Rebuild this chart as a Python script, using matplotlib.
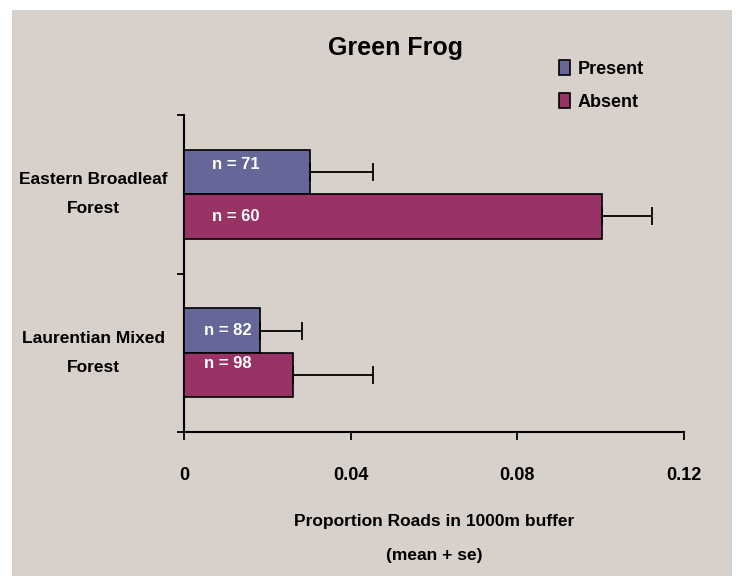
import matplotlib
matplotlib.use("Agg")
import matplotlib.pyplot as plt
import numpy as np
from matplotlib.patches import Rectangle

# data
regions = ["Eastern Broadleaf\nForest", "Laurentian Mixed\nForest"]
groups = ["Present", "Absent"]
present_mean = [0.0302, 0.0182]
present_se = [0.0152, 0.0101]
absent_mean = [0.1003, 0.0262]
absent_se = [0.0120, 0.0192]
present_n = [71, 82]
absent_n = [60, 98]
xticks = [0, 0.04, 0.08, 0.12]
xtick_labels = ["0", "0.04", "0.08", "0.12"]

FONT = ["Liberation Sans Narrow", "Liberation Sans", "DejaVu Sans"]
plt.rcParams["font.family"] = FONT
plt.rcParams["font.weight"] = "bold"

BG = "#D8D0CA"
C_PRESENT = "#666699"
C_ABSENT = "#993366"

fig = plt.figure(figsize=(7.37, 5.76), dpi=100)
fig.patch.set_facecolor("white")
bg = Rectangle((12 / 737, 0), 720 / 737, 566 / 576,
               transform=fig.transFigure, facecolor=BG,
               edgecolor="none", zorder=-10)
fig.patches.append(bg)

ax = fig.add_axes([184 / 737, 144 / 576, 500 / 737, 317 / 576])
ax.set_facecolor("none")
ax.set_zorder(2)

# Eastern on top
y = np.array([1.0, 0.0])
h = 0.28
kw = dict(height=h, edgecolor="black", linewidth=1.2, zorder=3)
ax.barh(y + h / 2, present_mean, color=C_PRESENT, **kw)
ax.barh(y - h / 2, absent_mean, color=C_ABSENT, **kw)

ekw = dict(fmt="none", ecolor="black", elinewidth=1.3, capsize=6.5,
           capthick=1.3, zorder=4)
ax.errorbar(present_mean, y + h / 2,
            xerr=[np.zeros(2), present_se], **ekw)
ax.errorbar(absent_mean, y - h / 2,
            xerr=[np.zeros(2), absent_se], **ekw)

# n labels
lab_dy_p = [0.05, 0.0]
lab_dy_a = [0.0, 0.07]
lab_x = [0.0125, 0.0105]
for i in range(2):
    ax.text(lab_x[i], y[i] + h / 2 + lab_dy_p[i], f"n = {present_n[i]}",
            color="white", fontsize=12, fontweight="bold",
            ha="center", va="center", zorder=5)
    ax.text(lab_x[i], y[i] - h / 2 + lab_dy_a[i], f"n = {absent_n[i]}",
            color="white", fontsize=12, fontweight="bold",
            ha="center", va="center", zorder=5)

ax.set_xlim(0, 0.12)
ax.set_ylim(-0.5, 1.5)
ax.set_xticks(xticks)
ax.set_xticklabels(xtick_labels, fontsize=13, fontweight="bold")
ax.set_yticks([-0.5, 0.5, 1.5])
ax.set_yticklabels([])
ax.tick_params(axis="x", length=6, width=1.3, pad=19)
ax.tick_params(axis="y", length=5, width=1.3)
for s in ["top", "right"]:
    ax.spines[s].set_visible(False)
for s in ["left", "bottom"]:
    ax.spines[s].set_linewidth(1.5)

for i, r in enumerate(regions):
    ax.text(-0.0218, y[i], r, fontsize=12.5, fontweight="bold", ha="center",
            va="center", linespacing=2.2)

ax.set_xlabel("Proportion Roads in 1000m buffer\n(mean + se)", fontsize=12.5,
              fontweight="bold", labelpad=22, linespacing=2.6)

fig.text(395 / 737, 1 - 48 / 576, "Green Frog", fontsize=18,
         fontweight="bold", ha="center", va="center")

handles = [Rectangle((0, 0), 1, 1, facecolor=C_PRESENT, edgecolor="black", linewidth=1.2),
           Rectangle((0, 0), 1, 1, facecolor=C_ABSENT, edgecolor="black", linewidth=1.2)]
fig.legend(handles, groups, loc="upper left",
           bbox_to_anchor=(543 / 737, 1 - 44 / 576), frameon=False,
           prop={"weight": "bold", "size": 13},
           handlelength=0.6, handleheight=0.9, handletextpad=0.4,
           labelspacing=0.85)

fig.savefig("out.png", dpi=100, facecolor=fig.get_facecolor())
